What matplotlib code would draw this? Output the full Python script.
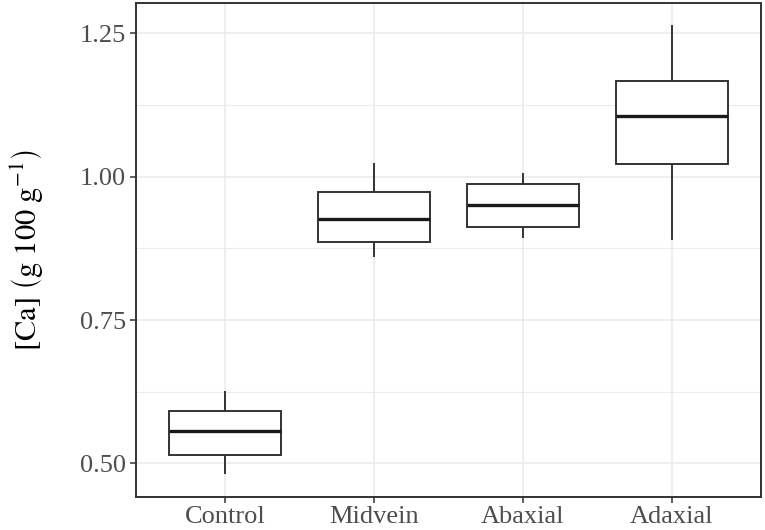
import matplotlib
matplotlib.use("Agg")
import matplotlib.pyplot as plt
from matplotlib.ticker import MultipleLocator

# Boxplot summary values
groups = ["Control", "Midvein", "Abaxial", "Adaxial"]
whisker_low = [0.483, 0.862, 0.894, 0.891]
q1 = [0.515, 0.886, 0.912, 1.023]
median = [0.557, 0.927, 0.951, 1.105]
q3 = [0.592, 0.974, 0.988, 1.167]
whisker_high = [0.624, 1.022, 1.004, 1.263]

plt.rcParams["font.family"] = ["Liberation Serif", "DejaVu Serif"]
plt.rcParams["mathtext.fontset"] = "stix"

fig = plt.figure(figsize=(7.65, 5.3), dpi=100)
ax = fig.add_axes([0.1774, 0.0628, 0.8174, 0.9306])

stats = []
for i, g in enumerate(groups):
    stats.append({
        "label": g,
        "whislo": whisker_low[i],
        "q1": q1[i],
        "med": median[i],
        "q3": q3[i],
        "whishi": whisker_high[i],
        "fliers": [],
    })

dark = "#333333"
ax.bxp(stats, positions=range(1, len(groups) + 1), widths=0.75,
       showfliers=False, showcaps=False, patch_artist=True, zorder=3,
       boxprops=dict(facecolor="white", edgecolor=dark, linewidth=1.4),
       whiskerprops=dict(color=dark, linewidth=1.4),
       medianprops=dict(color="#1a1a1a", linewidth=2.4))

ax.set_xlim(0.4, 4.6)
ax.set_ylim(0.442, 1.302)
ax.yaxis.set_major_locator(MultipleLocator(0.25))
ax.yaxis.set_minor_locator(MultipleLocator(0.125))
ax.yaxis.set_major_formatter(plt.FuncFormatter(lambda v, p: f"{v:.2f}"))

ax.grid(True, which="major", color="#EBEBEB", linewidth=1.2, zorder=0)
ax.grid(True, which="minor", axis="y", color="#EBEBEB", linewidth=0.8, zorder=0)
ax.set_axisbelow(True)

ax.tick_params(axis="both", which="major", length=4, width=1.1, color=dark,
               labelsize=19, labelcolor="#4D4D4D", pad=3)
ax.tick_params(axis="y", which="minor", length=0)

for s in ax.spines.values():
    s.set_color(dark)
    s.set_linewidth(1.4)

ax.set_ylabel(r"$\mathrm{[Ca]}\ \left(\mathrm{g\ 100\ g^{-1}}\right)$",
              fontsize=22, labelpad=24)

fig.savefig("out.png", dpi=100)
